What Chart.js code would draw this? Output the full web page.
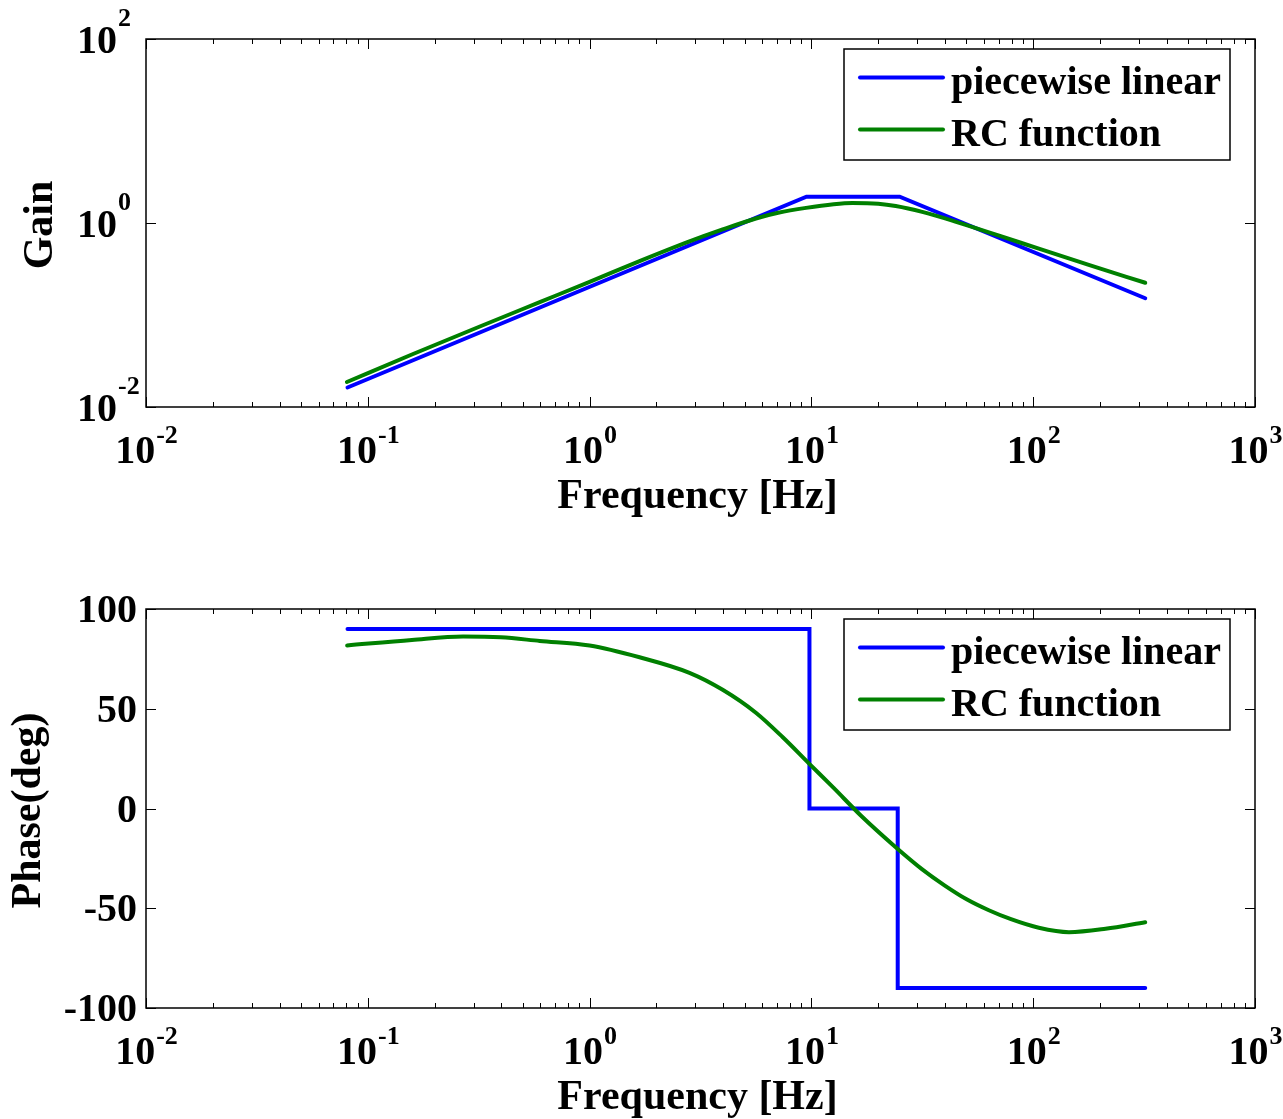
<!DOCTYPE html>
<html>
<head>
<meta charset="utf-8">
<title>Gain and phase</title>
<script src="https://cdn.jsdelivr.net/npm/chart.js@4.4.0/dist/chart.umd.min.js"></script>
<style>
    body { margin: 0; background: #fff; }
    canvas { position: absolute; left: 0; }
    #gainChart { top: 0; }
    #phaseChart { top: 560px; }
</style>
</head>
<body>
<canvas id="gainChart" width="1283" height="560"></canvas>
<canvas id="phaseChart" width="1283" height="559"></canvas>
<script>
// Axis ticks
const freqTickExps = [-2, -1, 0, 1, 2, 3];     // 10^n Hz
const gainTickExps = [-2, 0, 2];               // 10^n
const phaseTicks = [-100, -50, 0, 50, 100];    // deg

const seriesLabels = ['piecewise linear', 'RC function'];
const seriesColors = ['#0000ff', '#008000'];

// Gain - piecewise linear
const gainFreqPwl = [0.081, 9.5, 25, 320];
const gainPwl = [0.0163, 1.93, 1.93, 0.152];

// Gain - RC function
const gainFreqRc = [0.0805, 0.158, 0.316, 0.596, 1.0, 1.68, 2.82, 3.98, 5.62, 7.08, 9.46,
                    12.6, 15.3, 20.0, 24.0, 31.6, 44.9, 70.8, 106, 178, 320];
const gainRc = [0.0187, 0.0372, 0.0741, 0.138, 0.229, 0.385, 0.631, 0.851, 1.12, 1.29, 1.46,
                1.60, 1.65, 1.62, 1.53, 1.32, 1.03, 0.724, 0.526, 0.351, 0.224];

// Phase - piecewise linear
const phaseFreqPwl = [0.081, 9.8, 9.8, 24.5, 24.5, 320];
const phasePwl = [90, 90, 0, 0, -90, -90];

// Phase - RC function
const phaseFreqRc = [0.0807, 0.158, 0.269, 0.398, 0.596, 1.0, 1.68, 2.82, 3.98, 5.62, 7.43,
                     9.79, 12.6, 16.7, 24.0, 31.6, 39.8, 50.1, 63.1, 79.4, 106, 145, 212, 320];
const phaseRc = [81.7, 84.5, 86.2, 85.8, 84.0, 81.7, 75.8, 68.0, 59.5, 48.0, 35.7,
                 22.4, 10.3, -3.5, -19.4, -30.5, -38.5, -45.5, -51.0, -55.5, -59.8, -62.0, -60.3, -57.0];

const FONT = '"Liberation Serif", "Times New Roman", serif';
const LINE_W = 4;

function toPoints(xs, ys) {
    return xs.map((x, i) => ({ x: x, y: ys[i] }));
}

// "10" with a superscript exponent
function drawPow(ctx, x, y, exp, align, rise) {
    ctx.font = 'bold 40px ' + FONT;
    const base = '10';
    const wBase = ctx.measureText(base).width;
    ctx.font = 'bold 26px ' + FONT;
    const sup = String(exp);
    const wSup = ctx.measureText(sup).width;
    let left;
    if (align === 'center') left = x - (wBase + wSup) / 2;
    else left = x - wBase;   // base right-aligned at x
    ctx.textAlign = 'left';
    ctx.font = 'bold 40px ' + FONT;
    ctx.fillText(base, left, y);
    ctx.font = 'bold 26px ' + FONT;
    ctx.fillText(sup, left + wBase + 1, y - rise);
}

// MATLAB style box, inward ticks, labels and legend
function matlabAxes(opts) {
    return {
        id: 'matlabAxes',
        afterDatasetsDraw(chart) {
            const ctx = chart.ctx;
            const a = chart.chartArea;
            const xs = chart.scales.x;
            const ys = chart.scales.y;
            ctx.save();
            ctx.fillStyle = '#000';
            ctx.strokeStyle = '#000';
            ctx.textBaseline = 'alphabetic';

            // ticks
            ctx.lineWidth = 1;
            ctx.beginPath();
            const vTick = (px, len) => {
                ctx.moveTo(px, a.bottom); ctx.lineTo(px, a.bottom - len);
                ctx.moveTo(px, a.top); ctx.lineTo(px, a.top + len);
            };
            freqTickExps.forEach((e, i) => {
                const dec = Math.pow(10, e);
                vTick(Math.round(xs.getPixelForValue(dec)) + 0.5, 10);
                if (i < freqTickExps.length - 1) {
                    for (let k = 2; k <= 9; k++) {
                        vTick(Math.round(xs.getPixelForValue(k * dec)) + 0.5, 5);
                    }
                }
            });
            opts.yValues.forEach(v => {
                const py = Math.round(ys.getPixelForValue(v)) + 0.5;
                ctx.moveTo(a.left, py); ctx.lineTo(a.left + 10, py);
                ctx.moveTo(a.right, py); ctx.lineTo(a.right - 10, py);
            });
            ctx.stroke();

            // box
            ctx.lineWidth = 1.5;
            ctx.strokeRect(a.left, a.top, a.right - a.left, a.bottom - a.top);

            // x tick labels
            freqTickExps.forEach(e => {
                const px = xs.getPixelForValue(Math.pow(10, e));
                drawPow(ctx, px, a.bottom + 56, e, 'center', 20);
            });

            // y tick labels
            opts.yValues.forEach((v, i) => {
                const py = ys.getPixelForValue(v);
                if (opts.yLog) {
                    drawPow(ctx, 117, py + 14, opts.yExps[i], 'right', 27);
                } else {
                    ctx.font = 'bold 40px ' + FONT;
                    ctx.textAlign = 'right';
                    ctx.fillText(String(v), 137, py + 13);
                }
            });

            // axis titles
            ctx.font = 'bold 42px ' + FONT;
            ctx.textAlign = 'center';
            ctx.fillText('Frequency [Hz]', (a.left + a.right) / 2 - 3, a.bottom + 101);
            ctx.save();
            ctx.translate(opts.yTitleX, (a.top + a.bottom) / 2 + 2);
            ctx.rotate(-Math.PI / 2);
            ctx.fillText(opts.yTitle, 0, 0);
            ctx.restore();

            // legend
            const bx = a.right - 411, by = a.top + 10, bw = 386, bh = 111;
            ctx.fillStyle = '#fff';
            ctx.fillRect(bx, by, bw, bh);
            ctx.lineWidth = 1.5;
            ctx.strokeRect(bx, by, bw, bh);
            chart.data.datasets.forEach((ds, i) => {
                const ry = by + 28.5 + i * 52;
                ctx.strokeStyle = ds.borderColor;
                ctx.lineWidth = LINE_W;
                ctx.lineCap = 'round';
                ctx.beginPath();
                ctx.moveTo(bx + 16, ry);
                ctx.lineTo(bx + 99, ry);
                ctx.stroke();
                ctx.fillStyle = '#000';
                ctx.font = 'bold 40px ' + FONT;
                ctx.textAlign = 'left';
                ctx.fillText(ds.label, bx + 107, ry + 16);
            });
            ctx.restore();
        }
    };
}

function lineSet(label, color, points, order, smooth) {
    return {
        label: label,
        data: points,
        borderColor: color,
        backgroundColor: color,
        borderWidth: LINE_W,
        pointRadius: 0,
        showLine: true,
        fill: false,
        order: order,
        cubicInterpolationMode: smooth ? 'monotone' : 'default',
        tension: smooth ? 0.4 : 0,
        borderCapStyle: 'round',
        borderJoinStyle: 'miter'
    };
}

function baseOptions(padding, yScale) {
    return {
        responsive: false,
        animation: false,
        devicePixelRatio: 1,
        layout: { padding: padding },
        plugins: { legend: { display: false }, tooltip: { enabled: false } },
        scales: {
            x: { type: 'logarithmic', min: 0.01, max: 1000, display: false },
            y: Object.assign({ display: false }, yScale)
        }
    };
}

// Gain chart
new Chart(document.getElementById('gainChart'), {
    type: 'scatter',
    data: {
        datasets: [
            lineSet(seriesLabels[0], seriesColors[0], toPoints(gainFreqPwl, gainPwl), 1, false),
            lineSet(seriesLabels[1], seriesColors[1], toPoints(gainFreqRc, gainRc), 0, true)
        ]
    },
    options: baseOptions({ left: 146, top: 39, right: 28, bottom: 153 },
        { type: 'logarithmic', min: 0.01, max: 100 }),
    plugins: [matlabAxes({
        yValues: gainTickExps.map(e => Math.pow(10, e)),
        yExps: gainTickExps,
        yLog: true,
        yTitle: 'Gain',
        yTitleX: 52
    })]
});

// Phase chart
new Chart(document.getElementById('phaseChart'), {
    type: 'scatter',
    data: {
        datasets: [
            lineSet(seriesLabels[0], seriesColors[0], toPoints(phaseFreqPwl, phasePwl), 1, false),
            lineSet(seriesLabels[1], seriesColors[1], toPoints(phaseFreqRc, phaseRc), 0, true)
        ]
    },
    options: baseOptions({ left: 146, top: 49, right: 28, bottom: 111 },
        { type: 'linear', min: -100, max: 100 }),
    plugins: [matlabAxes({
        yValues: phaseTicks,
        yLog: false,
        yTitle: 'Phase(deg)',
        yTitleX: 40
    })]
});
</script>
</body>
</html>
